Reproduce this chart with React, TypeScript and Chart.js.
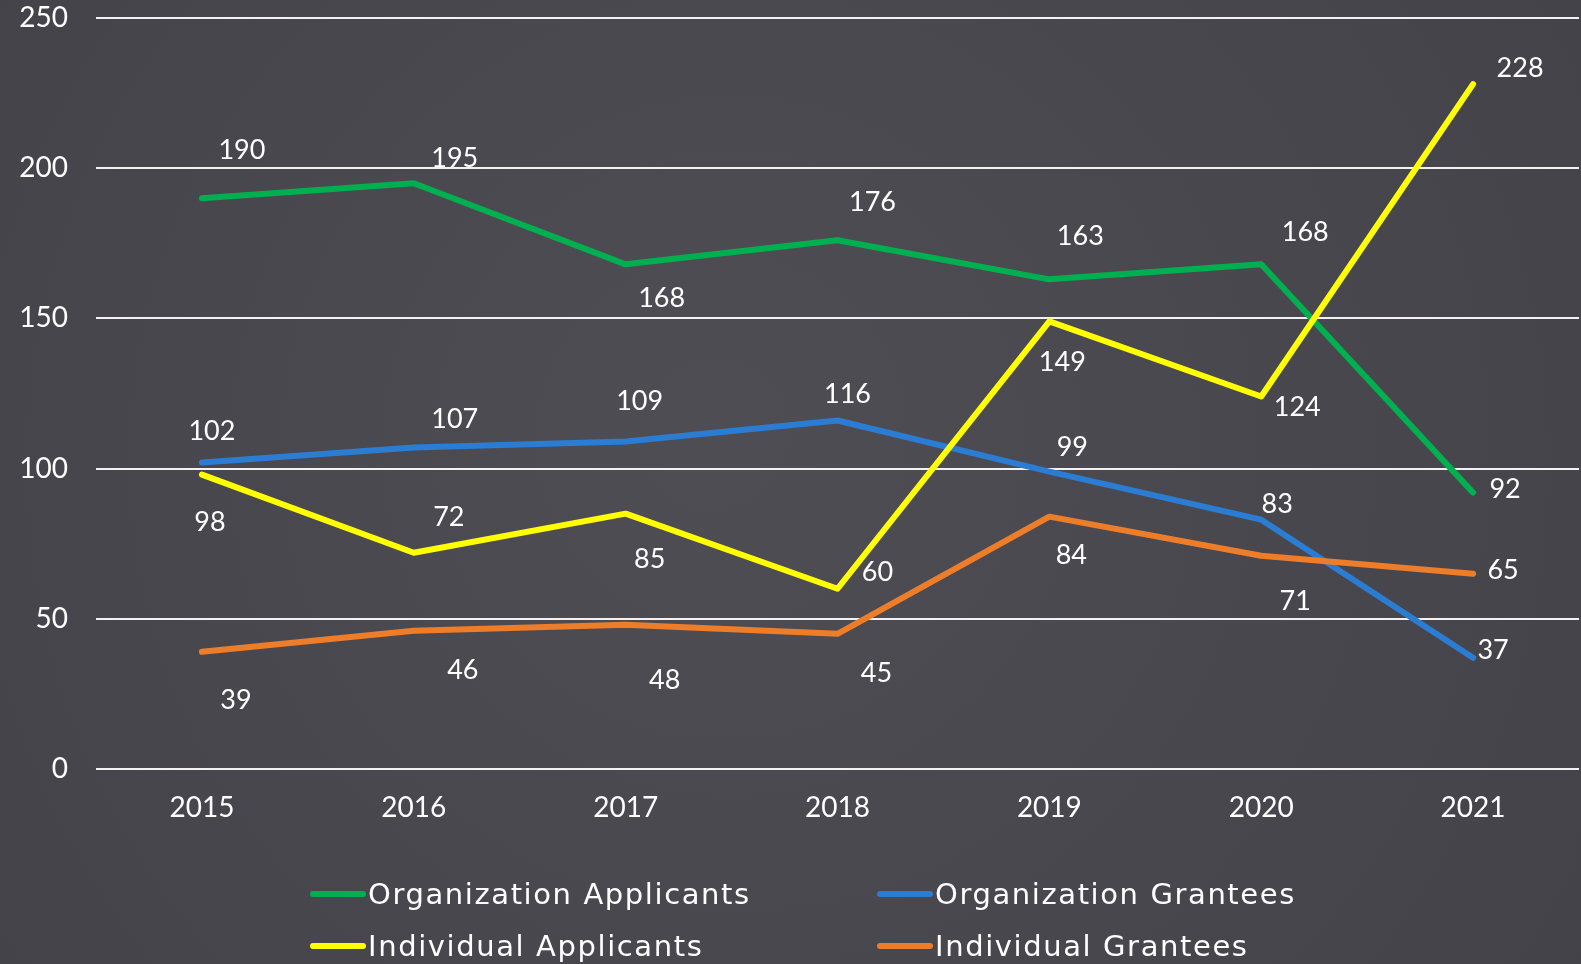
import React, { useEffect, useRef } from "react";
import { Chart, registerables } from "chart.js";

Chart.register(...registerables);

const years = ["2015", "2016", "2017", "2018", "2019", "2020", "2021"];
const orgApplicants = [190, 195, 168, 176, 163, 168, 92];
const orgGrantees = [102, 107, 109, 116, 99, 83, 37];
const indApplicants = [98, 72, 85, 60, 149, 124, 228];
const indGrantees = [39, 46, 48, 45, 84, 71, 65];
const yMin = 0;
const yMax = 250;
const yStep = 50;

const seriesNames = [
  "Organization Applicants",
  "Organization Grantees",
  "Individual Applicants",
  "Individual Grantees",
];
const seriesColors = ["#00B050", "#2B7CD3", "#FFFF00", "#EE7D2A"];

// label placement offsets (dx, dy) relative to each point
const orgApplicantsLabelOffsets = [[40, -48], [41, -25], [36, 34], [35, -38], [31, -43], [44, -32], [32, -3]];
const orgGranteesLabelOffsets = [[10, -31], [41, -28], [14, -40], [10, -26], [23, -24], [16, -15], [20, -8]];
const indApplicantsLabelOffsets = [[8, 48], [35, -35], [24, 46], [40, -16], [13, 41], [36, 11], [47, -16]];
const indGranteesLabelOffsets = [[34, 48], [49, 39], [39, 55], [39, 39], [22, 39], [34, 46], [30, -3]];

const FONT = "Lato, 'Open Sans', sans-serif";
const LEGEND_FONT = "'DejaVu Sans', sans-serif";

export default function App() {
  const ref = useRef<HTMLCanvasElement | null>(null);

  useEffect(() => {
    const canvas = ref.current;
    if (!canvas) return;

    const bgPlugin = {
      id: "bg",
      beforeDraw(chart: any) {
        const { ctx, width, height } = chart;
        ctx.save();
        const g = ctx.createRadialGradient(width * 0.45, height * 0.45, 50, width * 0.5, height * 0.5, width * 0.75);
        g.addColorStop(0, "#4E4D53");
        g.addColorStop(1, "#414046");
        ctx.fillStyle = g;
        ctx.fillRect(0, 0, width, height);
        ctx.restore();
      },
    };

    const labelPlugin = {
      id: "valueLabels",
      afterDatasetsDraw(chart: any) {
        const { ctx } = chart;
        ctx.save();
        ctx.font = `27px ${FONT}`;
        ctx.fillStyle = "#FFFFFF";
        ctx.textAlign = "center";
        ctx.textBaseline = "middle";
        chart.data.datasets.forEach((ds: any, i: number) => {
          const meta = chart.getDatasetMeta(i);
          meta.data.forEach((pt: any, j: number) => {
            const off = ds.labelOffsets[j];
            ctx.fillText(String(ds.data[j]), pt.x + off[0], pt.y + off[1]);
          });
        });
        ctx.restore();
      },
    };

    const legendPlugin = {
      id: "customLegend",
      afterDraw(chart: any) {
        const { ctx } = chart;
        ctx.save();
        ctx.font = `29px ${LEGEND_FONT}`;
        try {
          (ctx as any).letterSpacing = "1.6px";
        } catch (e) {}
        ctx.fillStyle = "#FFFFFF";
        ctx.textBaseline = "middle";
        ctx.textAlign = "left";
        const cols = [310, 877];
        const rows = [896, 948];
        [0, 1, 2, 3].forEach((idx, k) => {
          const x = cols[k % 2];
          const y = rows[Math.floor(k / 2)];
          ctx.strokeStyle = seriesColors[idx];
          ctx.lineWidth = 6;
          ctx.lineCap = "round";
          ctx.beginPath();
          ctx.moveTo(x + 3, y - 2);
          ctx.lineTo(x + 53, y - 2);
          ctx.stroke();
          ctx.fillText(seriesNames[idx], x + 58, y);
        });
        ctx.restore();
      },
    };

    const mk = (k: number, data: number[], offsets: number[][], order: number) => ({
      label: seriesNames[k],
      data,
      borderColor: seriesColors[k],
      backgroundColor: seriesColors[k],
      borderWidth: 6,
      pointRadius: 0,
      tension: 0,
      borderCapStyle: "round",
      borderJoinStyle: "round",
      labelOffsets: offsets,
      order,
    });

    const chart = new Chart(canvas, {
      type: "line",
      data: {
        labels: years,
        datasets: [
          mk(0, orgApplicants, orgApplicantsLabelOffsets, 2),
          mk(1, orgGrantees, orgGranteesLabelOffsets, 3),
          mk(2, indApplicants, indApplicantsLabelOffsets, 0),
          mk(3, indGrantees, indGranteesLabelOffsets, 1),
        ] as any,
      },
      options: {
        responsive: false,
        animation: false,
        layout: { padding: { top: 18, right: 2, bottom: 135, left: 0 } },
        plugins: {
          legend: { display: false },
          tooltip: { enabled: false },
        },
        scales: {
          x: {
            offset: true,
            grid: { display: false, drawTicks: false },
            border: { display: false },
            ticks: {
              color: "#FFFFFF",
              font: { family: FONT, size: 28 },
              padding: 22,
              maxRotation: 0,
            },
            afterFit(scale: any) {
              scale.height = 60;
              scale.paddingLeft = 0;
              scale.paddingRight = 0;
            },
          },
          y: {
            min: yMin,
            max: yMax,
            grid: { color: "#F2F2F2", lineWidth: 2, drawTicks: false },
            border: { display: false },
            ticks: {
              stepSize: yStep,
              color: "#FFFFFF",
              font: { family: FONT, size: 28 },
              padding: 28,
            },
            afterFit(scale: any) {
              scale.width = 96;
              scale.paddingTop = 0;
              scale.paddingBottom = 0;
            },
          },
        },
      },
      plugins: [bgPlugin, labelPlugin, legendPlugin],
    });

    return () => chart.destroy();
  }, []);

  return (
    <div style={{ position: "absolute", left: 0, top: 0, width: 1581, height: 964 }}>
      <canvas ref={ref} width={1581} height={964} style={{ display: "block" }} />
    </div>
  );
}
